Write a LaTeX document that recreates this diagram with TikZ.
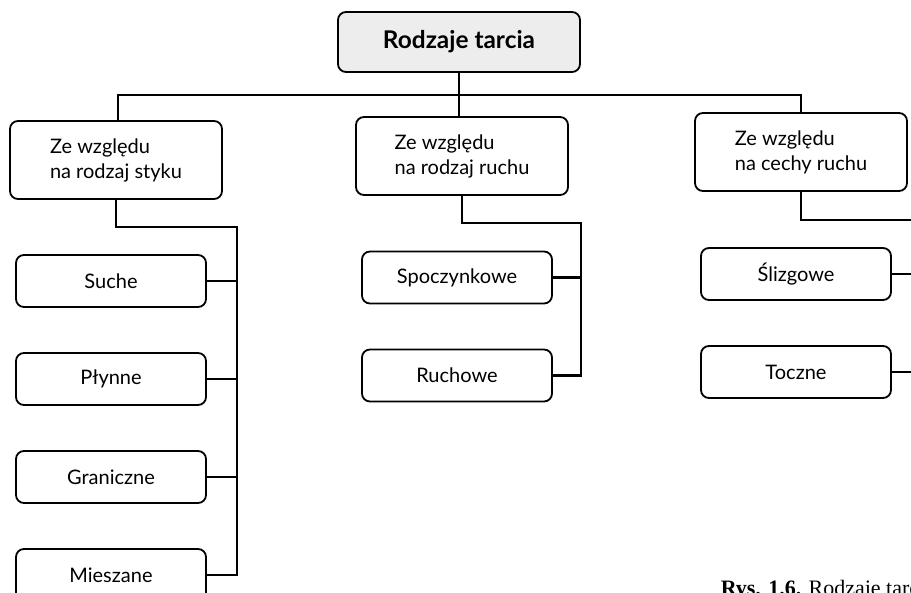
\documentclass[tikz,border=0pt]{standalone}
\usepackage{fontspec}
\setmainfont{Lato}
\newfontfamily\capfont{Liberation Serif}
\usepackage{tikz}

\begin{document}
\begin{tikzpicture}[x=0.5pt, y=-0.5pt, line width=1.1pt, node distance=49pt,
  box/.style={draw, line width=0.9pt, rounded corners=4pt, font=\fontsize{10}{12.5}\selectfont},
  topbox/.style={box, fill=black!7, minimum width=121pt, minimum height=30pt, font=\fontsize{12.2}{13}\selectfont\bfseries},
  catbox/.style={box, align=left, minimum width=106pt, minimum height=39pt},
  leafbox/.style={box, minimum width=95pt, minimum height=26pt}]
  \useasboundingbox (0,0) rectangle (911,593);
  \clip (0,0) rectangle (911,593);
  \node[topbox] (root) at (459,42) {Rodzaje tarcia};
  \node[catbox] (contact) at (116,160) {Ze względu\\na rodzaj styku};
  \node[catbox] (motion) at (462,156) {Ze względu\\na rodzaj ruchu};
  \node[catbox] (feature) at (801,152) {Ze względu\\na cechy ruchu};
  \node[leafbox] (dry) at (111,281) {Suche};
  \node[leafbox, below of=dry] (fluid) {Płynne};
  \node[leafbox, below of=fluid] (boundary) {Graniczne};
  \node[leafbox, below of=boundary] (mixed) {Mieszane};
  \node[leafbox] (static) at (457,277.5) {Spoczynkowe};
  \node[leafbox, below of=static] (kinetic) {Ruchowe};
  \node[leafbox] (sliding) at (796,274) {Ślizgowe};
  \node[leafbox, below of=sliding] (rolling) {Toczne};
  \coordinate (bus) at (459,95);
  \coordinate (c1) at (237,227);
  \coordinate (c2) at (581,223);
  \coordinate (c3) at (925,220);
  \draw (root.south) -- (root.south |- motion.north);
  \draw ([xshift=1pt]contact.north) |- (bus) -| (feature.north);
  \draw (contact.south) |- (c1) |- (mixed.east);
  \draw (dry.east) -- (dry.east -| c1);
  \draw (fluid.east) -- (fluid.east -| c1);
  \draw (boundary.east) -- (boundary.east -| c1);
  \draw (motion.south) |- (c2) |- (kinetic.east);
  \draw (static.east) -- (static.east -| c2);
  \draw (feature.south) |- (c3) |- (rolling.east);
  \draw (sliding.east) -- (sliding.east -| c3);
  \node[anchor=base west, font=\capfont\fontsize{11}{13}\selectfont] (caption) at (713,595)
    {\textbf{Rys. 1.6.} Rodzaje tarcia};
\end{tikzpicture}
\end{document}
